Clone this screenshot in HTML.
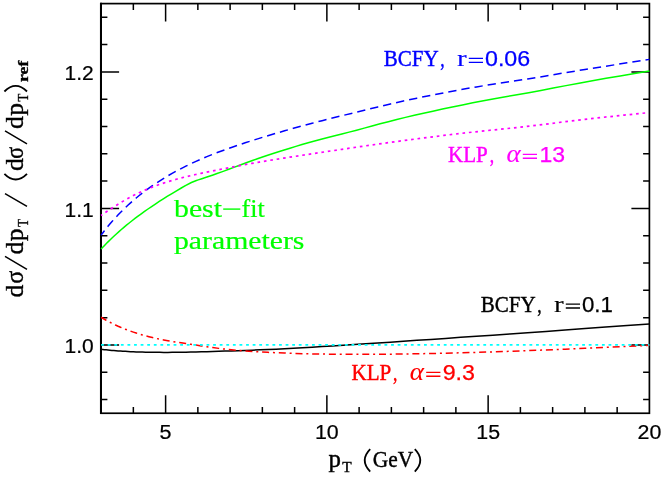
<!DOCTYPE html>
<html><head><meta charset="utf-8"><title>plot</title>
<style>html,body{margin:0;padding:0;background:#fff;}body{width:664px;height:477px;overflow:hidden;font-family:"Liberation Serif",serif;}svg{display:block;will-change:transform;}</style>
</head><body>
<svg width="664" height="477" viewBox="0 0 664 477">
<rect width="664" height="477" fill="#fff"/>
<g fill="none" stroke="#000" stroke-width="1.50">
<path d="M133.35 413.25 v-6.30 M133.35 3.60 v6.30 M165.61 413.25 v-18.00 M165.61 3.60 v18.00 M197.86 413.25 v-6.30 M197.86 3.60 v6.30 M230.11 413.25 v-6.30 M230.11 3.60 v6.30 M262.36 413.25 v-6.30 M262.36 3.60 v6.30 M294.62 413.25 v-6.30 M294.62 3.60 v6.30 M326.87 413.25 v-18.00 M326.87 3.60 v18.00 M359.12 413.25 v-6.30 M359.12 3.60 v6.30 M391.38 413.25 v-6.30 M391.38 3.60 v6.30 M423.63 413.25 v-6.30 M423.63 3.60 v6.30 M455.88 413.25 v-6.30 M455.88 3.60 v6.30 M488.14 413.25 v-18.00 M488.14 3.60 v18.00 M520.39 413.25 v-6.30 M520.39 3.60 v6.30 M552.64 413.25 v-6.30 M552.64 3.60 v6.30 M584.89 413.25 v-6.30 M584.89 3.60 v6.30 M617.15 413.25 v-6.30 M617.15 3.60 v6.30 M101.10 399.60 h6.30 M649.40 399.60 h-6.30 M101.10 372.29 h6.30 M649.40 372.29 h-6.30 M101.10 344.98 h18.00 M649.40 344.98 h-18.00 M101.10 317.66 h6.30 M649.40 317.66 h-6.30 M101.10 290.35 h6.30 M649.40 290.35 h-6.30 M101.10 263.04 h6.30 M649.40 263.04 h-6.30 M101.10 235.73 h6.30 M649.40 235.73 h-6.30 M101.10 208.42 h18.00 M649.40 208.42 h-18.00 M101.10 181.12 h6.30 M649.40 181.12 h-6.30 M101.10 153.81 h6.30 M649.40 153.81 h-6.30 M101.10 126.50 h6.30 M649.40 126.50 h-6.30 M101.10 99.19 h6.30 M649.40 99.19 h-6.30 M101.10 71.88 h18.00 M649.40 71.88 h-18.00 M101.10 44.57 h6.30 M649.40 44.57 h-6.30 M101.10 17.26 h6.30 M649.40 17.26 h-6.30"/>
</g>
<rect x="101.10" y="3.60" width="548.30" height="409.65" fill="none" stroke="#000" stroke-width="1.7"/>
<path d="M100.95 2.75 V414.10" stroke="#000" stroke-width="2.0" fill="none"/>
<g fill="none" stroke-width="1.50" stroke-linejoin="round">
<path d="M101.10 349.33 L102.72 349.50 L104.40 349.68 L106.15 349.86 L107.96 350.04 L109.85 350.21 L111.81 350.39 L113.85 350.56 L115.97 350.73 L118.17 350.90 L120.46 351.06 L122.84 351.22 L125.31 351.37 L127.88 351.51 L130.55 351.64 L133.33 351.77 L136.21 351.89 L139.21 351.99 L142.33 352.09 L145.57 352.17 L148.94 352.24 L152.44 352.30 L156.07 352.34 L159.85 352.37 L163.78 352.39 L167.87 352.38 L172.11 352.36 L176.52 352.32 L181.11 352.26 L185.87 352.18 L190.83 352.08 L195.98 351.96 L201.33 351.82 L206.89 351.66 L212.67 351.50 L218.67 351.31 L224.92 351.12 L231.41 350.91 L238.15 350.68 L245.16 350.43 L252.45 350.16 L260.02 349.86 L267.89 349.52 L276.07 349.15 L284.58 348.74 L293.41 348.27 L302.60 347.74 L312.14 347.17 L322.07 346.56 L332.38 345.92 L343.10 345.24 L354.24 344.53 L365.81 343.77 L377.85 342.98 L390.36 342.14 L403.36 341.27 L416.87 340.36 L430.91 339.40 L445.50 338.40 L460.67 337.35 L476.44 336.27 L492.83 335.13 L509.86 333.95 L527.56 332.73 L545.96 331.45 L565.08 330.07 L584.96 328.59 L605.62 327.04 L627.09 325.46 L649.40 323.88" stroke="#000"/>
<path d="M101.10 317.24 L102.72 318.25 L104.40 319.26 L106.15 320.27 L107.96 321.28 L109.85 322.28 L111.81 323.28 L113.85 324.28 L115.97 325.28 L118.17 326.28 L120.46 327.26 L122.84 328.25 L125.31 329.22 L127.88 330.19 L130.55 331.16 L133.33 332.11 L136.21 333.06 L139.21 333.99 L142.33 334.91 L145.57 335.82 L148.94 336.71 L152.44 337.58 L156.07 338.42 L159.85 339.23 L163.78 340.01 L167.87 340.76 L172.11 341.47 L176.52 342.15 L181.11 342.83 L185.87 343.53 L190.83 344.27 L195.98 345.06 L201.33 345.90 L206.89 346.75 L212.67 347.59 L218.67 348.38 L224.92 349.11 L231.41 349.76 L238.15 350.36 L245.16 350.91 L252.45 351.42 L260.02 351.89 L267.89 352.32 L276.07 352.72 L284.58 353.07 L293.41 353.39 L302.60 353.66 L312.14 353.89 L322.07 354.07 L332.38 354.21 L343.10 354.30 L354.24 354.34 L365.81 354.34 L377.85 354.28 L390.36 354.17 L403.36 354.00 L416.87 353.79 L430.91 353.51 L445.50 353.19 L460.67 352.80 L476.44 352.35 L492.83 351.85 L509.86 351.28 L527.56 350.65 L545.96 349.94 L565.08 349.17 L584.96 348.32 L605.62 347.39 L627.09 346.37 L649.40 345.28" stroke="#f00" stroke-dasharray="7 3.85 2 3.85" stroke-dashoffset="0.8"/>
<path d="M101.10 249.05 L102.78 247.24 L104.53 245.40 L106.35 243.53 L108.25 241.63 L110.22 239.70 L112.27 237.73 L114.41 235.73 L116.63 233.69 L118.95 231.62 L121.36 229.51 L123.87 227.36 L126.48 225.19 L129.20 222.97 L132.03 220.73 L134.98 218.45 L138.04 216.14 L141.23 213.79 L144.55 211.41 L148.01 208.99 L151.61 206.53 L155.36 204.02 L159.26 201.47 L163.32 198.88 L167.54 196.23 L171.94 193.54 L176.51 190.80 L181.28 188.00 L186.24 185.14 L186.40 185.04 Q191.40 182.05 196.40 180.43 L198.26 179.87 L201.82 178.75 L205.47 177.56 L209.22 176.30 L213.07 174.98 L217.01 173.58 L221.06 172.13 L225.21 170.61 L229.46 169.03 L233.83 167.41 L238.31 165.75 L242.90 164.05 L247.61 162.32 L252.45 160.58 L257.41 158.82 L262.49 157.05 L267.71 155.28 L273.06 153.50 L278.55 151.73 L284.18 149.94 L289.96 148.16 L295.88 146.37 L301.96 144.59 L308.19 142.81 L314.59 141.03 L321.15 139.27 L327.87 137.51 L334.78 135.75 L341.86 133.97 L349.12 132.12 L356.57 130.18 L364.21 128.14 L372.05 126.01 L380.08 123.83 L388.33 121.65 L396.79 119.50 L405.47 117.39 L414.37 115.31 L423.50 113.24 L432.86 111.17 L442.47 109.10 L452.33 107.02 L462.43 104.93 L472.80 102.85 L483.44 100.78 L494.35 98.74 L505.54 96.74 L517.02 94.73 L528.79 92.65 L540.87 90.44 L553.26 88.07 L565.97 85.62 L579.01 83.16 L592.38 80.73 L606.09 78.33 L620.16 75.93 L634.60 73.51 L649.40 71.04" stroke="#0f0"/>
<path d="M101.10 235.16 L102.72 233.00 L104.40 230.80 L106.15 228.58 L107.96 226.34 L109.85 224.08 L111.81 221.79 L113.85 219.48 L115.97 217.16 L118.17 214.81 L120.46 212.45 L122.84 210.07 L125.31 207.68 L127.88 205.27 L130.55 202.85 L133.33 200.42 L136.21 197.98 L139.21 195.54 L142.33 193.08 L145.57 190.62 L148.94 188.16 L152.44 185.70 L156.07 183.24 L159.85 180.77 L163.78 178.31 L167.87 175.85 L172.11 173.40 L176.52 170.96 L181.11 168.54 L185.87 166.13 L190.83 163.73 L195.98 161.36 L201.33 159.00 L206.89 156.66 L212.67 154.34 L218.67 152.03 L224.92 149.74 L231.41 147.43 L238.15 145.13 L245.16 142.80 L252.45 140.46 L260.02 138.10 L267.89 135.70 L276.07 133.27 L284.58 130.81 L293.41 128.31 L302.60 125.79 L312.14 123.23 L322.07 120.66 L332.38 118.07 L343.10 115.44 L354.24 112.70 L365.81 109.85 L377.85 106.90 L390.36 103.94 L403.36 101.02 L416.87 98.15 L430.91 95.31 L445.50 92.48 L460.67 89.67 L476.44 86.90 L492.83 84.21 L509.86 81.60 L527.56 78.93 L545.96 76.00 L565.08 72.78 L584.96 69.49 L605.62 66.21 L627.09 62.86 L649.40 59.38" stroke="#00f" stroke-dasharray="8.3 5.02" stroke-dashoffset="2.6"/>
<path d="M101.10 215.49 L102.71 214.38 L104.39 213.23 L106.13 212.04 L107.95 210.81 L109.83 209.54 L111.79 208.24 L113.82 206.92 L115.93 205.56 L118.13 204.18 L120.41 202.78 L122.79 201.36 L125.25 199.93 L127.81 198.49 L130.48 197.05 L133.24 195.60 L136.12 194.16 L139.11 192.72 L142.22 191.29 L145.44 189.87 L148.80 188.47 L152.29 187.09 L155.91 185.74 L159.68 184.40 L163.59 183.09 L167.66 181.80 L171.89 180.54 L176.28 179.30 L180.85 178.09 L185.60 176.89 L190.53 175.71 L195.65 174.53 L200.98 173.36 L206.52 172.18 L212.27 170.99 L218.25 169.77 L224.47 168.54 L230.92 167.28 L237.64 166.00 L244.61 164.70 L251.86 163.39 L259.40 162.07 L267.23 160.75 L275.36 159.42 L283.82 158.08 L292.61 156.72 L301.75 155.32 L311.24 153.89 L321.11 152.42 L331.36 150.89 L342.02 149.31 L353.09 147.68 L364.60 146.01 L376.56 144.31 L389.00 142.57 L401.92 140.82 L415.34 139.04 L429.30 137.24 L443.80 135.43 L458.87 133.64 L474.54 131.89 L490.81 130.20 L507.73 128.50 L525.32 126.62 L543.59 124.43 L562.58 122.04 L582.32 119.64 L602.83 117.35 L624.15 115.12 L646.30 112.88" stroke="#f0f" stroke-dasharray="2.65 3.82" stroke-dashoffset="1.3" stroke-width="1.7"/>
<path d="M101.10 344.88 H649.40" stroke="#0ff" stroke-dasharray="2.8 3.79" stroke-width="1.8"/>
</g>
<text x="383.70" y="66.40" fill="#00f" stroke="#00f" stroke-width="0.42" font-size="22.40" font-family="'Liberation Serif', serif" textLength="54.90" lengthAdjust="spacingAndGlyphs" >BCFY</text>
<text x="440.20" y="66.40" fill="#00f" stroke="#00f" stroke-width="0.42" font-size="22.40" font-family="'Liberation Serif', serif" textLength="4.40" lengthAdjust="spacingAndGlyphs" >,</text>
<text x="456.90" y="66.40" fill="#00f" stroke="#00f" stroke-width="0.10" font-size="23.50" font-family="'Liberation Serif', serif" textLength="9.70" lengthAdjust="spacingAndGlyphs" >r</text>
<path d="M468.80 58.40 H483.00 M468.80 62.30 H483.00" stroke="#00f" stroke-width="1.35" fill="none"/>
<text x="485.00" y="66.40" fill="#00f" stroke="#00f" stroke-width="0.25" font-size="21.30" font-family="'Liberation Sans', sans-serif" textLength="45.20" lengthAdjust="spacingAndGlyphs" >0.06</text>
<text x="480.70" y="312.10" fill="#000" stroke="#000" stroke-width="0.42" font-size="22.40" font-family="'Liberation Serif', serif" textLength="54.90" lengthAdjust="spacingAndGlyphs" >BCFY</text>
<text x="537.20" y="312.10" fill="#000" stroke="#000" stroke-width="0.42" font-size="22.40" font-family="'Liberation Serif', serif" textLength="4.40" lengthAdjust="spacingAndGlyphs" >,</text>
<text x="553.90" y="312.10" fill="#000" stroke="#000" stroke-width="0.10" font-size="23.50" font-family="'Liberation Serif', serif" textLength="9.70" lengthAdjust="spacingAndGlyphs" >r</text>
<path d="M565.80 304.10 H580.00 M565.80 308.00 H580.00" stroke="#000" stroke-width="1.35" fill="none"/>
<text x="582.00" y="312.10" fill="#000" stroke="#000" stroke-width="0.25" font-size="21.30" font-family="'Liberation Sans', sans-serif" textLength="30.90" lengthAdjust="spacingAndGlyphs" >0.1</text>
<text x="448.10" y="162.30" fill="#f0f" stroke="#f0f" stroke-width="0.42" font-size="22.40" font-family="'Liberation Serif', serif" textLength="39.70" lengthAdjust="spacingAndGlyphs" >KLP</text>
<text x="489.70" y="162.30" fill="#f0f" stroke="#f0f" stroke-width="0.42" font-size="22.40" font-family="'Liberation Serif', serif" textLength="4.40" lengthAdjust="spacingAndGlyphs" >,</text>
<text x="506.40" y="162.30" fill="#f0f" stroke="#f0f" stroke-width="0.10" font-size="24.80" font-family="'Liberation Serif', serif" textLength="14.20" lengthAdjust="spacingAndGlyphs" font-style="italic">&#945;</text>
<path d="M522.80 154.30 H537.00 M522.80 158.20 H537.00" stroke="#f0f" stroke-width="1.35" fill="none"/>
<text x="539.40" y="162.30" fill="#f0f" stroke="#f0f" stroke-width="0.25" font-size="21.30" font-family="'Liberation Sans', sans-serif" textLength="25.60" lengthAdjust="spacingAndGlyphs" >13</text>
<text x="351.50" y="380.30" fill="#f00" stroke="#f00" stroke-width="0.42" font-size="22.40" font-family="'Liberation Serif', serif" textLength="39.70" lengthAdjust="spacingAndGlyphs" >KLP</text>
<text x="393.10" y="380.30" fill="#f00" stroke="#f00" stroke-width="0.42" font-size="22.40" font-family="'Liberation Serif', serif" textLength="4.40" lengthAdjust="spacingAndGlyphs" >,</text>
<text x="409.80" y="380.30" fill="#f00" stroke="#f00" stroke-width="0.10" font-size="24.80" font-family="'Liberation Serif', serif" textLength="14.20" lengthAdjust="spacingAndGlyphs" font-style="italic">&#945;</text>
<path d="M426.20 372.30 H440.40 M426.20 376.20 H440.40" stroke="#f00" stroke-width="1.35" fill="none"/>
<text x="442.70" y="380.30" fill="#f00" stroke="#f00" stroke-width="0.25" font-size="21.30" font-family="'Liberation Sans', sans-serif" textLength="32.30" lengthAdjust="spacingAndGlyphs" >9.3</text>
<text x="174.00" y="216.90" fill="#0f0" stroke="#0f0" stroke-width="0.20" font-size="24.80" font-family="'Liberation Serif', serif" textLength="48.00" lengthAdjust="spacingAndGlyphs" >best</text>
<path d="M223.2 209.1 H240.3" stroke="#0f0" stroke-width="1.4" fill="none"/>
<text x="241.60" y="216.90" fill="#0f0" stroke="#0f0" stroke-width="0.20" font-size="24.80" font-family="'Liberation Serif', serif" textLength="23.20" lengthAdjust="spacingAndGlyphs" >fit</text>
<text x="174.00" y="249.20" fill="#0f0" stroke="#0f0" stroke-width="0.20" font-size="24.80" font-family="'Liberation Serif', serif" textLength="130.40" lengthAdjust="spacingAndGlyphs" >parameters</text>
<text x="64.50" y="353.28" fill="#000" stroke="#000" stroke-width="0.20" font-size="20.00" font-family="'Liberation Sans', sans-serif" textLength="29.20" lengthAdjust="spacingAndGlyphs" >1.0</text>
<text x="64.50" y="216.72" fill="#000" stroke="#000" stroke-width="0.20" font-size="20.00" font-family="'Liberation Sans', sans-serif" textLength="29.20" lengthAdjust="spacingAndGlyphs" >1.1</text>
<text x="64.50" y="80.18" fill="#000" stroke="#000" stroke-width="0.20" font-size="20.00" font-family="'Liberation Sans', sans-serif" textLength="29.20" lengthAdjust="spacingAndGlyphs" >1.2</text>
<text x="159.61" y="438.80" fill="#000" stroke="#000" stroke-width="0.20" font-size="20.00" font-family="'Liberation Sans', sans-serif" textLength="12.00" lengthAdjust="spacingAndGlyphs" >5</text>
<text x="314.97" y="438.80" fill="#000" stroke="#000" stroke-width="0.20" font-size="20.00" font-family="'Liberation Sans', sans-serif" textLength="23.80" lengthAdjust="spacingAndGlyphs" >10</text>
<text x="476.24" y="438.80" fill="#000" stroke="#000" stroke-width="0.20" font-size="20.00" font-family="'Liberation Sans', sans-serif" textLength="23.80" lengthAdjust="spacingAndGlyphs" >15</text>
<text x="637.50" y="438.80" fill="#000" stroke="#000" stroke-width="0.20" font-size="20.00" font-family="'Liberation Sans', sans-serif" textLength="23.80" lengthAdjust="spacingAndGlyphs" >20</text>
<text x="328.60" y="466.60" fill="#000" stroke="#000" stroke-width="0.42" font-size="24.50" font-family="'Liberation Serif', serif" textLength="12.40" lengthAdjust="spacingAndGlyphs" >p</text>
<text x="342.20" y="472.10" fill="#000" stroke="#000" stroke-width="0.42" font-size="15.50" font-family="'Liberation Serif', serif" textLength="9.40" lengthAdjust="spacingAndGlyphs" >T</text>
<path d="M370.2 449.2 Q359.2 460.4 370.2 471.6 M414.8 449.2 Q425.8 460.4 414.8 471.6" fill="none" stroke="#000" stroke-width="1.8"/>
<text x="372.80" y="466.60" fill="#000" stroke="#000" stroke-width="0.42" font-size="22.80" font-family="'Liberation Serif', serif" textLength="40.40" lengthAdjust="spacingAndGlyphs" >GeV</text>
<g transform="translate(23.3,0) rotate(-90)">
<text x="-297.60" y="0.00" stroke="#000" stroke-width="0.35" font-size="24.50" font-family="'Liberation Serif', serif" textLength="12.80" lengthAdjust="spacingAndGlyphs" >d</text>
<text x="-283.80" y="0.00" stroke="#000" stroke-width="0.35" font-size="24.50" font-family="'Liberation Serif', serif" textLength="13.00" lengthAdjust="spacingAndGlyphs" >&#963;</text>
<text x="-254.40" y="0.00" stroke="#000" stroke-width="0.35" font-size="24.50" font-family="'Liberation Serif', serif" textLength="12.80" lengthAdjust="spacingAndGlyphs" >d</text>
<text x="-241.20" y="0.00" stroke="#000" stroke-width="0.35" font-size="24.50" font-family="'Liberation Serif', serif" textLength="12.80" lengthAdjust="spacingAndGlyphs" >p</text>
<text x="-226.80" y="4.40" stroke="#000" stroke-width="0.35" font-size="15.50" font-family="'Liberation Serif', serif" textLength="7.80" lengthAdjust="spacingAndGlyphs" >T</text>
<text x="-171.10" y="0.00" stroke="#000" stroke-width="0.35" font-size="24.50" font-family="'Liberation Serif', serif" textLength="12.80" lengthAdjust="spacingAndGlyphs" >d</text>
<text x="-158.80" y="0.00" stroke="#000" stroke-width="0.35" font-size="24.50" font-family="'Liberation Serif', serif" textLength="11.80" lengthAdjust="spacingAndGlyphs" >&#963;</text>
<text x="-129.00" y="0.00" stroke="#000" stroke-width="0.35" font-size="24.50" font-family="'Liberation Serif', serif" textLength="12.80" lengthAdjust="spacingAndGlyphs" >d</text>
<text x="-115.80" y="0.00" stroke="#000" stroke-width="0.35" font-size="24.50" font-family="'Liberation Serif', serif" textLength="12.80" lengthAdjust="spacingAndGlyphs" >p</text>
<text x="-101.40" y="4.40" stroke="#000" stroke-width="0.35" font-size="15.50" font-family="'Liberation Serif', serif" textLength="7.80" lengthAdjust="spacingAndGlyphs" >T</text>
<text x="-82.00" y="4.40" stroke="#000" stroke-width="0.35" font-size="15.50" font-family="'Liberation Serif', serif" textLength="21.30" lengthAdjust="spacingAndGlyphs" font-weight="bold">ref</text>
</g>
<path d="M27 269.3 L5 256.4 M27 206.3 L5 193.7 M27 143.9 L5 130.9 " fill="none" stroke="#000" stroke-width="1.5"/>
<path d="M4.4 173.8 Q15.7 185.2 27 173.8 M4.4 91.5 Q15.7 80.1 27 91.5" fill="none" stroke="#000" stroke-width="1.8"/>
</svg>
</body></html>
